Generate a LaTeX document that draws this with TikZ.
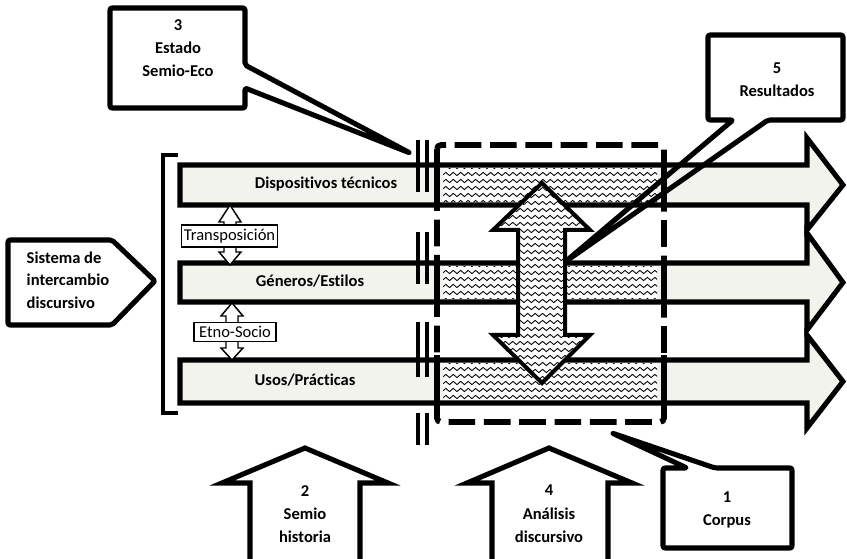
\documentclass[tikz,border=0pt]{standalone}
\usepackage{fontspec}
\setmainfont{Carlito}[Ligatures=NoCommon]
\usetikzlibrary{decorations.pathmorphing}
\definecolor{bandgray}{RGB}{243,243,238}

\begin{document}
\begin{tikzpicture}[
        x=0.75pt, y=-0.75pt,
        bandarrow/.style={draw, line width=3.8pt, fill=bandgray, line join=miter},
        wavy/.style={decorate, decoration={snake, amplitude=1.2pt, segment length=5.6pt}, line width=0.65pt},
        callout/.style={draw, line width=3.8pt, line join=round, rounded corners=1.5pt},
        uparrow/.style={draw, line width=3.8pt, fill=white, line join=miter},
        twohead/.style={draw, line width=1.1pt, fill=white},
        tag/.style={draw, line width=1.1pt, fill=white, inner xsep=1.6pt, inner ysep=3pt, font=\fontsize{12.4}{13}\selectfont},
        boldtext/.style={font=\fontsize{12.4}{17.5}\selectfont\bfseries, align=center},
        barline/.style={line width=3pt},
    ]
        \useasboundingbox (0,0) rectangle (847,559);

        % --- Las tres bandas (flechas largas) ---
        \foreach \tp/\bt/\ht/\hb in {165/205/138/230, 263/302/233/330, 360/403/335/428} {
            \pgfmathsetmacro{\md}{(\tp+\bt)/2}
            \draw[bandarrow] (180,\tp) -- (807,\tp) -- (807,\ht) -- (843,\md)
                -- (807,\hb) -- (807,\bt) -- (180,\bt) -- cycle;
            \begin{scope}
                \clip (443,\tp+3.5) rectangle (657,\bt-3.5);
                \fill[white] (443,\tp) rectangle (657,\bt);
                \foreach \yy in {2,9,...,44}
                    \draw[wavy] (436,\tp+\yy) -- (664,\tp+\yy);
            \end{scope}
        }

        % --- Corpus (rectangulo discontinuo) ---
        \draw[line width=4.3pt, dash pattern=on 20pt off 6.5pt, rounded corners=3pt] (437,145) rectangle (664,422);
        \foreach \tp/\bt in {160/210, 258/307, 355/408} {
            \draw[line width=4.5pt] (437,\tp) -- (437,\bt);
            \draw[line width=4.5pt] (664,\tp) -- (664,\bt);
        }

        % --- Corte doble ---
        \foreach \a/\b in {140/192, 232/284, 322/377, 413/445} {
            \draw[barline] (418,\a) -- (418,\b);
            \draw[barline] (427,\a) -- (427,\b);
        }

        % --- Flecha doble del analisis ---
        \begin{scope}
            \clip (542,183) -- (590,230) -- (565,230) -- (565,335) -- (590,335) -- (542,383)
                -- (493,335) -- (518,335) -- (518,230) -- (493,230) -- cycle;
            \fill[white] (490,180) rectangle (595,390);
            \foreach \yy in {182,189,...,390}
                \draw[wavy] (488,\yy) -- (597,\yy);
        \end{scope}
        \draw[line width=3pt, line join=miter] (542,183) -- (590,230) -- (565,230) -- (565,335) -- (590,335) -- (542,383)
            -- (493,335) -- (518,335) -- (518,230) -- (493,230) -- cycle;

        % --- Etiquetas de las bandas ---
        \node[boldtext] (dev) at (326,184) {Dispositivos técnicos};
        \node[boldtext] (gen) at (310,281) {Géneros/Estilos};
        \node[boldtext] (uso) at (305,380) {Usos/Prácticas};

        % --- Flechas entre bandas ---
        \draw[twohead] (230,205) -- (241,222) -- (236,222) -- (236,252) -- (241,252) -- (230,265)
            -- (219,252) -- (224,252) -- (224,222) -- (219,222) -- cycle;
        \node[tag] (transp) at (229.5,236) {Transposición};
        \draw[twohead] (232,303) -- (243,316) -- (238,316) -- (238,348) -- (243,348) -- (232,360)
            -- (221,348) -- (226,348) -- (226,316) -- (221,316) -- cycle;
        \node[tag, inner xsep=4pt] (etno) at (235,332) {Etno-Socio};

        % --- Corchete y sistema ---
        \draw[line width=3.5pt] (178,155) -- (163,155) -- (163,413) -- (178,413);
        \draw[callout] (8,240) -- (112,240) -- (155,281) -- (112,325) -- (8,325) -- cycle;
        \node[boldtext, align=left, anchor=west, font=\fontsize{12.4}{16.8}\selectfont\bfseries] (sis) at (22,280)
            {Sistema de\\intercambio\\discursivo};

        % --- Llamadas ---
        \draw[callout] (110,8) -- (245,8) -- (245,65) -- (410,153) -- (245,88) -- (245,108) -- (110,108) -- cycle;
        \node[boldtext] (est) at (178,48) {3\\Estado\\Semio-Eco};
        \draw[callout] (708,35) -- (843,35) -- (843,120) -- (768,120) -- (565,262) -- (733,120) -- (708,120) -- cycle;
        \node[boldtext] (res) at (777,80) {5\\Resultados};
        \draw[callout] (663,468) -- (687,468) -- (612,433) -- (715,468) -- (792,468) -- (792,548) -- (663,548) -- cycle;
        \node[boldtext] (cor) at (727,510) {1\\Corpus};

        % --- Flechas hacia arriba ---
        \draw[uparrow] (305,448) -- (388,483) -- (360,483) -- (360,575) -- (250,575) -- (250,483) -- (222,483) -- cycle;
        \node[boldtext] (sem) at (305,514) {2\\Semio\\historia};
        \draw[uparrow] (549,448) -- (632,483) -- (608,483) -- (608,575) -- (492,575) -- (492,483) -- (467,483) -- cycle;
        \node[boldtext] (ana) at (549,514) {4\\Análisis\\discursivo};
    \end{tikzpicture}
\end{document}
